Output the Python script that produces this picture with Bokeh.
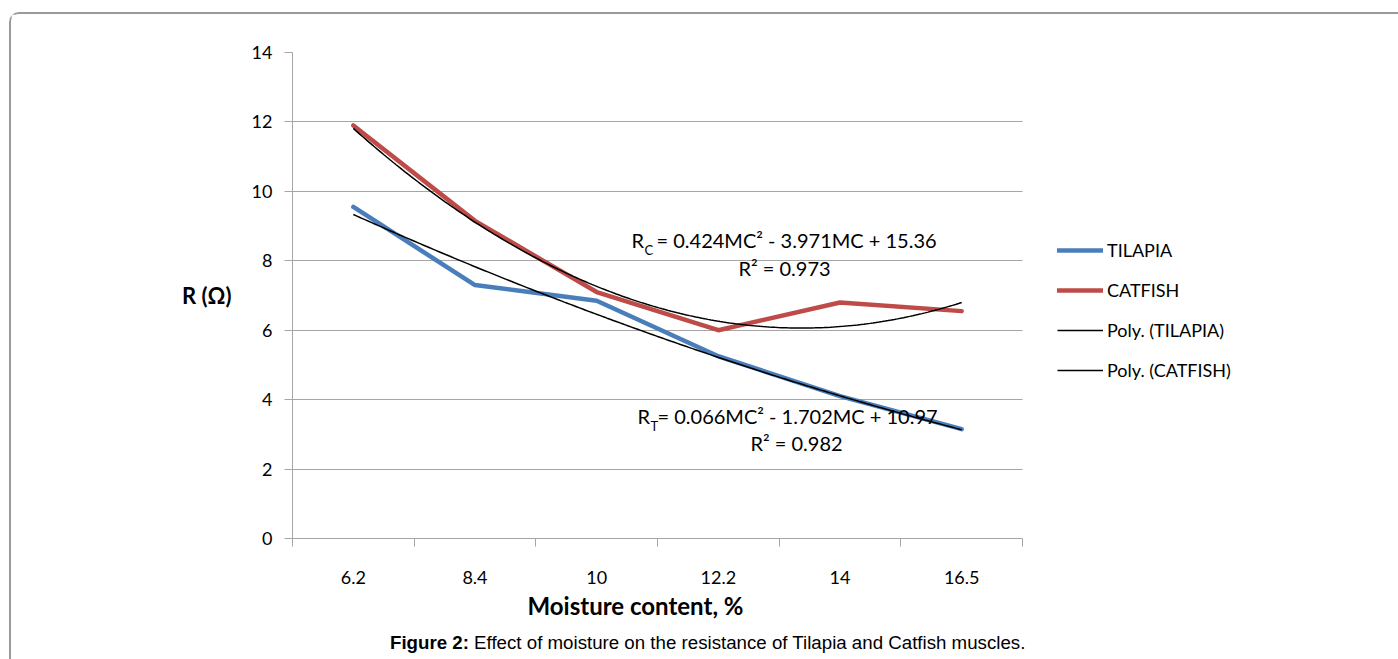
import numpy as np
from bokeh.plotting import figure
from bokeh.models import (Range1d, FixedTicker, Legend, LegendItem, Label, Div, Title)
from bokeh.layouts import column
from bokeh.embed import file_html
from bokeh.resources import INLINE

# ---- data ----
categories = ["6.2", "8.4", "10", "12.2", "14", "16.5"]
tilapia = [9.55, 7.3, 6.85, 5.25, 4.1, 3.15]
catfish = [11.9, 9.15, 7.1, 6.0, 6.8, 6.55]
tilapia_poly = [0.066, -1.702, 10.97]   # R_T trendline coefficients (on category index)
catfish_poly = [0.424, -3.971, 15.36]   # R_C trendline coefficients
y_ticks = [0, 2, 4, 6, 8, 10, 12, 14]
series_names = ["TILAPIA", "CATFISH", "Poly. (TILAPIA)", "Poly. (CATFISH)"]
x_title = "Moisture content, %"
y_title = "R (Ω)"
caption_bold = "Figure 2:"
caption_text = "Effect of moisture on the resistance of Tilapia and Catfish muscles."

xs = list(range(1, len(categories) + 1))
n = len(categories)

FONT = "Lato"
GRAY = "#a6a6a6"

# canvas placement (page offset by CSS margin + border)
OX, OY = 11, 14
W = 1398 - OX
H = 618
FL, FT, FR, FB = 292, 52, 1022, 538  # plotting-area edges in page pixels
# the frame extends to the right canvas edge so the legend (inside it) is not clipped;
# axis and grid are bounded to the category area
X_END = 0.5 + n * (1398 - FL) / (FR - FL)

p = figure(width=W, height=H, output_backend="svg", toolbar_location=None,
           x_range=Range1d(0.5, X_END), y_range=Range1d(0, 14),
           min_border_left=FL - OX, min_border_top=FT - OY,
           min_border_right=0, min_border_bottom=H - (FB - OY),
           outline_line_color=None, background_fill_color="white",
           border_fill_color="white")

# axes
xa = p.xaxis[0]
xa.bounds = (0.5, n + 0.5)
xa.ticker = FixedTicker(ticks=xs, minor_ticks=[i + 0.5 for i in range(0, n + 1)])
xa.major_label_overrides = {x: c for x, c in zip(xs, categories)}
xa.major_tick_line_color = None
xa.major_tick_out = 0
xa.major_tick_in = 0
xa.minor_tick_out = 8
xa.minor_tick_in = 0
xa.minor_tick_line_color = GRAY
xa.axis_line_color = GRAY
xa.major_label_text_font = FONT
xa.major_label_text_font_size = "18px"
xa.major_label_text_color = "#000000"
xa.major_label_standoff = 24

p.add_layout(Title(text=x_title, align="left", offset=527 - FL, standoff=4,
                   text_font=FONT, text_font_style="bold", text_font_size="24px",
                   text_color="#000000"), "below")

ya = p.yaxis[0]
ya.ticker = FixedTicker(ticks=y_ticks)
ya.major_tick_out = 8
ya.major_tick_in = 0
ya.major_tick_line_color = GRAY
ya.minor_tick_line_color = None
ya.axis_line_color = GRAY
ya.major_label_text_font = FONT
ya.major_label_text_font_size = "18px"
ya.major_label_text_color = "#000000"
ya.major_label_standoff = 12
ya.axis_label = y_title
ya.axis_label_orientation = "horizontal"
ya.axis_label_text_font = FONT
ya.axis_label_text_font_style = "bold"
ya.axis_label_text_font_size = "22px"
ya.axis_label_text_color = "#000000"
ya.axis_label_standoff = 17

p.xgrid.grid_line_color = None
p.ygrid.ticker = FixedTicker(ticks=y_ticks)
p.ygrid.cross_bounds = (0.5, n + 0.5)
p.ygrid.grid_line_color = GRAY
p.ygrid.grid_line_width = 1

# series
r_t = p.line(xs, tilapia, line_color="#4a7ebb", line_width=4.5, line_join="round", line_cap="round")
r_c = p.line(xs, catfish, line_color="#be4b48", line_width=4.5, line_join="round", line_cap="round")

xf = np.linspace(1, n, 200)
r_pt = p.line(xf, np.polyval(tilapia_poly, xf), line_color="black", line_width=1.5)
r_pc = p.line(xf, np.polyval(catfish_poly, xf), line_color="black", line_width=1.5)

legend = Legend(items=[LegendItem(label=s, renderers=[r])
                       for s, r in zip(series_names, [r_t, r_c, r_pt, r_pc])],
                location=(1057 - FL, FB - 381), orientation="vertical",
                glyph_width=46, glyph_height=20, label_height=20, spacing=18,
                label_standoff=4, padding=0, margin=0, border_line_color=None,
                background_fill_alpha=0, label_text_font=FONT,
                label_text_font_size="18px", label_text_color="#000000")
p.add_layout(legend, "center")

# annotation helpers (page pixel -> data coords, only for text placement)
def dx(px):
    return 0.5 + (px - FL) / ((FR - FL) / n)

def dy(py):
    return (FB - py) / ((FB - FT) / 14.0)

def add_text(px, py, text, size="20px", align="left", style="normal", font=FONT):
    p.add_layout(Label(x=dx(px), y=dy(py), text=text, text_align=align,
                       text_baseline="middle", text_font=font, text_font_size=size,
                       text_font_style=style, text_color="#000000"))

add_text(631, 239, "R")
add_text(644, 249, "C", size="13px")
add_text(656, 239, "= 0.424MC² - 3.971MC + 15.36")
add_text(784, 267, "R² = 0.973", align="center")

add_text(637, 415, "R")
add_text(650, 425, "T", size="13px")
add_text(657, 415, "= 0.066MC² - 1.702MC + 10.97")
add_text(796, 442, "R² = 0.982", align="center")

cap = Div(text=f"<b>{caption_bold}</b> {caption_text}", width=760, height=659 - OY - H,
          margin=(0, 0, 0, 390 - OX),
          styles={"font-family": "'Liberation Sans', Arial, sans-serif",
                  "font-size": "18.7px", "line-height": "22px", "color": "#000000",
                  "white-space": "nowrap"})

layout = column(p, cap, spacing=0)
layout.styles = {"border-top": "2px solid #9a9a9a", "border-left": "2px solid #9a9a9a",
                 "border-top-left-radius": "10px", "margin-top": "12px",
                 "margin-left": "9px", "background": "white"}

open("out.html", "w").write(file_html(layout, INLINE))
